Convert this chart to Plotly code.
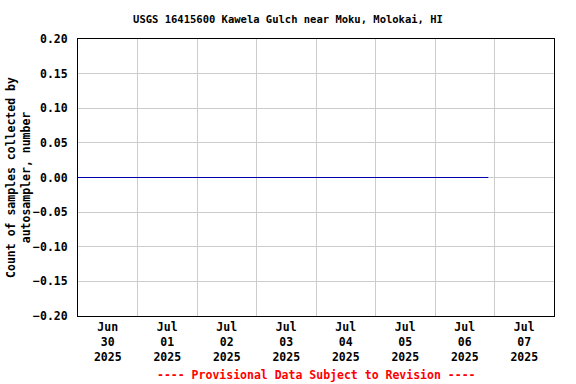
import plotly.graph_objects as go

# Data
times = ["2025-06-30 00:00", "2025-07-06 21:30"]
values = [0.0, 0.0]

day_bounds = ["2025-06-30", "2025-07-01", "2025-07-02", "2025-07-03", "2025-07-04",
              "2025-07-05", "2025-07-06", "2025-07-07", "2025-07-08"]
label_pos = ["2025-06-30 12:00", "2025-07-01 12:00", "2025-07-02 12:00", "2025-07-03 12:00",
             "2025-07-04 12:00", "2025-07-05 12:00", "2025-07-06 12:00", "2025-07-07 12:00"]
label_text = ["Jun<br>30<br>2025", "Jul<br>01<br>2025", "Jul<br>02<br>2025", "Jul<br>03<br>2025",
              "Jul<br>04<br>2025", "Jul<br>05<br>2025", "Jul<br>06<br>2025", "Jul<br>07<br>2025"]
y_ticks = [-0.20, -0.15, -0.10, -0.05, 0.00, 0.05, 0.10, 0.15, 0.20]

FONT = "DejaVu Sans Mono"

fig = go.Figure()
fig.add_trace(go.Scatter(x=times, y=values, mode="lines",
                         line=dict(color="#0000AA", width=1), showlegend=False,
                         hoverinfo="skip"))

fig.update_layout(
    width=576, height=384,
    margin=dict(l=78, r=22, t=39, b=68),
    plot_bgcolor="white", paper_bgcolor="white",
    font=dict(family=FONT, size=11.5, color="black", weight="bold"),
    title=dict(text="USGS 16415600 Kawela Gulch near Moku, Molokai, HI",
               x=0.5, xanchor="center", xref="container", y=1 - 19 / 384, yanchor="middle",
               yref="container",
               font=dict(family=FONT, size=10.5, color="black", weight="bold")),
    xaxis=dict(
        range=[day_bounds[0], day_bounds[-1]], automargin=False,
        tickmode="array", tickvals=label_pos, ticktext=label_text,
        showgrid=False, ticks="", ticklen=0,
        minor=dict(tickmode="array", tickvals=day_bounds, showgrid=True,
                   gridcolor="#CCCCCC", gridwidth=1, ticks=""),
        showline=True, linecolor="black", linewidth=1, mirror=True,
        zeroline=False, tickfont=dict(family=FONT, size=11.5, weight="bold"),
    ),
    yaxis=dict(
        range=[-0.2, 0.2], tickmode="array", tickvals=y_ticks, automargin=False,
        tickformat=".2f", showgrid=True, gridcolor="#CCCCCC", gridwidth=1,
        showline=True, linecolor="black", linewidth=1, mirror=True,
        zeroline=False, ticks="", ticklen=0, ticklabelstandoff=7,
        title=dict(text="Count of samples collected by<br>autosampler, number",
                   standoff=0, font=dict(family=FONT, size=11.5, weight="bold")),
        tickfont=dict(family=FONT, size=11.5, weight="bold"),
    ),
)

fig.add_annotation(text="---- Provisional Data Subject to Revision ----",
                   xref="paper", yref="paper", x=0.5, y=0, yshift=-59,
                   xanchor="center", yanchor="middle", showarrow=False,
                   font=dict(family=FONT, size=11.5, color="#FF0000", weight="bold"))

fig.write_html("out.html")
